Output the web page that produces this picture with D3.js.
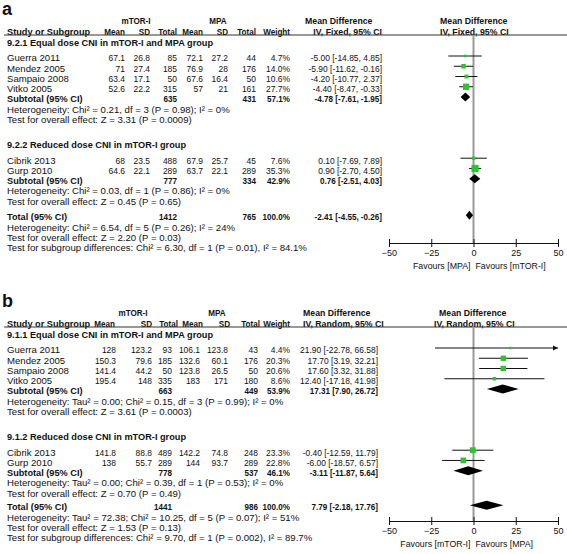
<!DOCTYPE html>
<html><head><meta charset="utf-8">
<script src="https://cdn.jsdelivr.net/npm/d3@7"></script>
<style>
body{margin:0;background:#fff}
text{font-family:"Liberation Sans",Arial,Helvetica,sans-serif;fill:#111}
</style>
</head><body>
<svg id="chart" width="567" height="554"></svg>
<script>
// ---------- shared ----------
const studies = ["Guerra 2011","Mendez 2005","Sampaio 2008","Vitko 2005","Cibrik 2013","Gurp 2010"];
const studyGroup = [0,0,0,0,1,1];
const axisTicks = [-50,-25,0,25,50];

// ---------- panel a (fixed) ----------
const aMean1 = [67.1,71,63.4,52.6,68,64.6];
const aSD1   = [26.8,27.4,17.1,22.2,23.5,22.1];
const aN1    = [85,185,50,315,488,289];
const aMean2 = [72.1,76.9,67.6,57,67.9,63.7];
const aSD2   = [27.2,28,16.4,21,25.7,22.1];
const aN2    = [44,176,50,161,45,289];
const aWeight= [4.7,14.0,10.6,27.7,7.6,35.3];
const aMD    = [-5.00,-5.90,-4.20,-4.40,0.10,0.90];
const aLo    = [-14.85,-11.62,-10.77,-8.47,-7.69,-2.70];
const aHi    = [4.85,-0.16,2.37,-0.33,7.89,4.50];
const aGroupTitles = ["9.2.1 Equal dose CNI in mTOR-I and MPA group","9.2.2 Reduced dose CNI in mTOR-I group"];
const aGroupN1 = [635,777], aGroupN2 = [431,334], aGroupW = [57.1,42.9];
const aGroupMD = [-4.78,0.76], aGroupLo = [-7.61,-2.51], aGroupHi = [-1.95,4.03];
const aGroupHet = ["Heterogeneity: Chi² = 0.21, df = 3 (P = 0.98); I² = 0%","Heterogeneity: Chi² = 0.03, df = 1 (P = 0.86); I² = 0%"];
const aGroupTest = ["Test for overall effect: Z = 3.31 (P = 0.0009)","Test for overall effect: Z = 0.45 (P = 0.65)"];
const aTotal = {n1:1412,n2:765,w:100.0,md:-2.41,lo:-4.55,hi:-0.26};
const aTotalLines = ["Heterogeneity: Chi² = 6.54, df = 5 (P = 0.26); I² = 24%","Test for overall effect: Z = 2.20 (P = 0.03)","Test for subgroup differences: Chi² = 6.30, df = 1 (P = 0.01), I² = 84.1%"];
const aFavours = ["Favours [MPA]","Favours [mTOR-I]"];

// ---------- panel b (random) ----------
const bMean1 = [128,150.3,141.4,195.4,141.8,138];
const bSD1   = [123.2,79.6,44.2,148,88.8,55.7];
const bN1    = [93,185,50,335,489,289];
const bMean2 = [106.1,132.6,123.8,183,142.2,144];
const bSD2   = [123.8,60.1,26.5,171,74.8,93.7];
const bN2    = [43,176,50,180,248,289];
const bWeight= [4.4,20.3,20.6,8.6,23.3,22.8];
const bMD    = [21.90,17.70,17.60,12.40,-0.40,-6.00];
const bLo    = [-22.78,3.19,3.32,-17.18,-12.59,-18.57];
const bHi    = [66.58,32.21,31.88,41.98,11.79,6.57];
const bGroupTitles = ["9.1.1 Equal dose CNI in mTOR-I and MPA group","9.1.2 Reduced dose CNI in mTOR-I group"];
const bGroupN1 = [663,778], bGroupN2 = [449,537], bGroupW = [53.9,46.1];
const bGroupMD = [17.31,-3.11], bGroupLo = [7.90,-11.87], bGroupHi = [26.72,5.64];
const bGroupHet = ["Heterogeneity: Tau² = 0.00; Chi² = 0.15, df = 3 (P = 0.99); I² = 0%","Heterogeneity: Tau² = 0.00; Chi² = 0.39, df = 1 (P = 0.53); I² = 0%"];
const bGroupTest = ["Test for overall effect: Z = 3.61 (P = 0.0003)","Test for overall effect: Z = 0.70 (P = 0.49)"];
const bTotal = {n1:1441,n2:986,w:100.0,md:7.79,lo:-2.18,hi:17.76};
const bTotalLines = ["Heterogeneity: Tau² = 72.38; Chi² = 10.25, df = 5 (P = 0.07); I² = 51%","Test for overall effect: Z = 1.53 (P = 0.13)","Test for subgroup differences: Chi² = 9.70, df = 1 (P = 0.002), I² = 89.7%"];
const bFavours = ["Favours [mTOR-I]","Favours [MPA]"];

const svg = d3.select("#chart");
const FS = 9.6, FSB = 9.2;
const NX = 0.88;           // horizontal squeeze for numeric columns / column headers
const GREEN = "#2ec42e";

function fmt2(v){ return v.toFixed(2); }
function ci(md,lo,hi){ return fmt2(md)+" ["+fmt2(lo)+", "+fmt2(hi)+"]"; }
function pct(w){ return w.toFixed(1)+"%"; }

function drawPanel(P){
  const g = svg.append("g").attr("transform","translate(0,"+P.top+")");
  const x = d3.scaleLinear().domain([-50,50]).range([389,558]);
  const C = P.cols;
  const txt = (xx,yy,s,anchor,bold,size,sx) => g.append("text")
      .attr("transform","translate("+xx+","+yy+") scale("+(sx||1)+",1)")
      .attr("dy","0.35em")
      .attr("text-anchor",anchor||"start").attr("font-size",size||(bold?FSB:FS)).attr("font-weight",bold?"bold":"normal").text(s);
  const num = (xx,yy,s,bold) => txt(xx,yy,s,"end",bold,null,NX);

  // panel letter
  g.append("text").attr("x",2).attr("y",P.letterY).attr("font-size",18).attr("font-weight","bold").text(P.letter);

  // headers
  txt(C.grp1,P.yGrpHead,"mTOR-I","middle",true,null,NX);
  txt(C.grp2,P.yGrpHead,"MPA","middle",true,null,NX);
  txt(C.md0,P.yGrpHead,"Mean Difference","start",true,null,0.95);
  txt(C.fp0,P.yGrpHead,"Mean Difference","start",true,null,0.95);
  const hy = P.yColHead;
  txt(7,hy,"Study or Subgroup","start",true);
  num(C.m1h,hy,"Mean",true); num(C.s1h,hy,"SD",true); num(C.n1h,hy,"Total",true);
  num(C.m2h,hy,"Mean",true); num(C.s2h,hy,"SD",true); num(C.n2h,hy,"Total",true);
  num(C.w,hy,"Weight",true);
  txt(C.md1,hy,P.model,P.mdAnchor,true,null,0.95);
  txt(C.fp1,hy,P.model,"start",true,null,0.95);
  g.append("line").attr("x1",4).attr("x2",567).attr("y1",P.yLine).attr("y2",P.yLine).attr("stroke","#333").attr("stroke-width",1);

  // row layout
  const STEP = 10.25;
  let y = P.yFirst;
  const rows = [];
  [0,1].forEach(gi => {
    if (gi===1) y += P.gapGroup;
    rows.push({type:"title",gi,y});
    y += P.gapTitle;
    studies.forEach((s,i) => { if (studyGroup[i]===gi){ rows.push({type:"study",i,y}); y += STEP; } });
    rows.push({type:"sub",gi,y}); y += STEP;
    rows.push({type:"het",gi,y}); y += STEP;
    rows.push({type:"test",gi,y});
  });
  y += P.gapTotal;
  rows.push({type:"total",y});
  P.totalLines.forEach(l => { y += STEP; rows.push({type:"tline",s:l,y}); });

  // zero line
  g.append("line").attr("x1",x(0)).attr("x2",x(0)).attr("y1",P.yLine).attr("y2",P.axisY)
    .attr("stroke","#999").attr("stroke-width",2);

  const diamond = (md,lo,hi,yy) => {
    const h = 4.5;
    g.append("path").attr("d","M"+x(lo)+","+yy+"L"+x(md)+","+(yy-h)+"L"+x(hi)+","+yy+"L"+x(md)+","+(yy+h)+"Z").attr("fill","#000");
  };

  rows.forEach(r => {
    const yy = r.y, my = r.y + P.markShift;
    if (r.type==="title"){ txt(7,yy,P.titles[r.gi],"start",true); }
    else if (r.type==="study"){
      const i = r.i;
      txt(7,yy,studies[i]);
      num(C.m1,yy,String(P.m1[i])); num(C.s1,yy,String(P.s1[i])); num(C.n1,yy,String(P.n1[i]));
      num(C.m2,yy,String(P.m2[i])); num(C.s2,yy,String(P.s2[i])); num(C.n2,yy,String(P.n2[i]));
      num(C.w,yy,pct(P.w[i]));
      num(C.mdr,yy,ci(P.md[i],P.lo[i],P.hi[i]));
      const lo = Math.max(P.lo[i],-50), hi = Math.min(P.hi[i],50);
      g.append("line").attr("x1",x(lo)).attr("x2",x(hi)).attr("y1",my).attr("y2",my).attr("stroke","#111").attr("stroke-width",1);
      if (P.hi[i]>50){
        g.append("path").attr("d","M"+x(50)+","+my+"l-5,-2.5v5Z").attr("fill","#111");
      }
      const sz = Math.max(2.2, 1.2*Math.sqrt(P.w[i]));
      g.append("rect").attr("x",x(P.md[i])-sz/2).attr("y",my-sz/2).attr("width",sz).attr("height",sz).attr("fill",GREEN);
    }
    else if (r.type==="sub"){
      const gi=r.gi;
      txt(7,yy,"Subtotal (95% CI)","start",true);
      num(C.n1,yy,String(P.gN1[gi]),true); num(C.n2,yy,String(P.gN2[gi]),true);
      num(C.w,yy,pct(P.gW[gi]),true);
      num(C.mdr,yy,ci(P.gMD[gi],P.gLo[gi],P.gHi[gi]),true);
      diamond(P.gMD[gi],P.gLo[gi],P.gHi[gi],my);
    }
    else if (r.type==="het"){ txt(7,yy,P.gHet[r.gi]); }
    else if (r.type==="test"){ txt(7,yy,P.gTest[r.gi]); }
    else if (r.type==="total"){
      const T=P.total;
      txt(7,yy,"Total (95% CI)","start",true);
      num(C.n1,yy,String(T.n1),true); num(C.n2,yy,String(T.n2),true);
      num(C.w,yy,pct(T.w),true);
      num(C.mdr,yy,ci(T.md,T.lo,T.hi),true);
      diamond(T.md,T.lo,T.hi,my);
    }
    else if (r.type==="tline"){ txt(7,yy,r.s); }
  });

  // axis
  const ax = g.append("g").attr("transform","translate(0,"+P.axisY+")")
    .call(d3.axisBottom(x).tickValues(axisTicks).tickSize(4).tickSizeOuter(0).tickPadding(3));
  ax.select(".domain").attr("stroke","#111");
  ax.selectAll(".tick line").attr("y1",-4).attr("stroke","#111");
  ax.selectAll(".tick text").attr("font-size",9).attr("font-family","Liberation Sans, Arial, sans-serif").attr("fill","#111");
  txt(x(0)-3,P.axisY+23,P.favours[0],"end",false,8.8);
  txt(x(0)+2,P.axisY+23,P.favours[1],"start",false,8.8);
}

drawPanel({
  top:0, letter:"a", letterY:15, model:"IV, Fixed, 95% CI", mdAnchor:"end",
  yGrpHead:21, yColHead:31.5, yLine:35, yFirst:43, gapTitle:15, gapGroup:25.7, gapTotal:16,
  axisY:243, markShift:-2,
  cols:{grp1:136,grp2:218,m1:125,m1h:125,s1:150,s1h:150,n1:177,n1h:177,m2:203,m2h:203,s2:228,s2h:228,n2:256,n2h:256,w:290,
        md0:305,md1:382,mdr:382,fp0:440,fp1:440},
  m1:aMean1,s1:aSD1,n1:aN1,m2:aMean2,s2:aSD2,n2:aN2,w:aWeight,md:aMD,lo:aLo,hi:aHi,
  titles:aGroupTitles,gN1:aGroupN1,gN2:aGroupN2,gW:aGroupW,gMD:aGroupMD,gLo:aGroupLo,gHi:aGroupHi,
  gHet:aGroupHet,gTest:aGroupTest,total:aTotal,totalLines:aTotalLines,favours:aFavours
});

drawPanel({
  top:292, letter:"b", letterY:15, model:"IV, Random, 95% CI", mdAnchor:"start",
  yGrpHead:21, yColHead:31.5, yLine:35, yFirst:43, gapTitle:15, gapGroup:25.7, gapTotal:14,
  axisY:229, markShift:-2,
  cols:{grp1:133,grp2:217,m1:116,m1h:115,s1:152,s1h:152,n1:172,n1h:178,m2:200,m2h:203,s2:228,s2h:230,n2:258,n2h:260,w:290,
        md0:303,md1:303,mdr:378,fp0:439,fp1:434},
  m1:bMean1,s1:bSD1,n1:bN1,m2:bMean2,s2:bSD2,n2:bN2,w:bWeight,md:bMD,lo:bLo,hi:bHi,
  titles:bGroupTitles,gN1:bGroupN1,gN2:bGroupN2,gW:bGroupW,gMD:bGroupMD,gLo:bGroupLo,gHi:bGroupHi,
  gHet:bGroupHet,gTest:bGroupTest,total:bTotal,totalLines:bTotalLines,favours:bFavours
});
</script>
</body></html>
